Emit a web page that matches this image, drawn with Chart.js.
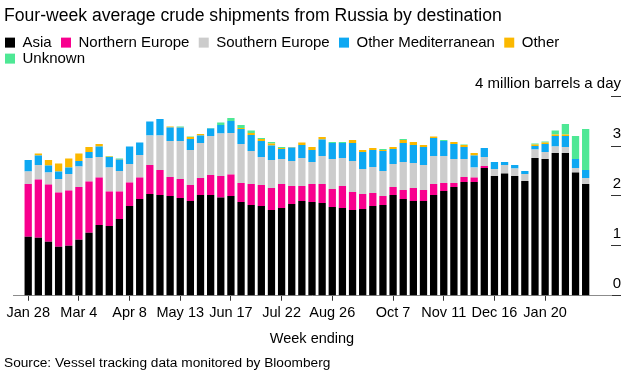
<!DOCTYPE html>
<html>
<head>
<meta charset="utf-8">
<script src="https://cdn.jsdelivr.net/npm/chart.js@4"></script>
<style>
  body { margin: 0; background: #fff; }
</style>
</head>
<body>
<canvas id="shipmentsChart" width="632" height="376"></canvas>
<script>
// week ending dates, one bar per week
const weeks = [
  "Jan 28", "Feb 4", "Feb 11", "Feb 18", "Feb 25", "Mar 4", "Mar 11", "Mar 18", "Mar 25", "Apr 1",
  "Apr 8", "Apr 15", "Apr 22", "Apr 29", "May 6", "May 13", "May 20", "May 27", "Jun 3", "Jun 10",
  "Jun 17", "Jun 24", "Jul 1", "Jul 8", "Jul 15", "Jul 22", "Jul 29", "Aug 5", "Aug 12", "Aug 19",
  "Aug 26", "Sep 2", "Sep 9", "Sep 16", "Sep 23", "Sep 30", "Oct 7", "Oct 14", "Oct 21", "Oct 28",
  "Nov 4", "Nov 11", "Nov 18", "Nov 25", "Dec 2", "Dec 9", "Dec 16", "Dec 23", "Dec 30", "Jan 6",
  "Jan 13", "Jan 20", "Jan 27", "Feb 3", "Feb 10", "Feb 17"
];
const tickWeeks = ["Jan 28", "Mar 4", "Apr 8", "May 13", "Jun 17", "Jul 22", "Aug 26", "Oct 7", "Nov 11", "Dec 16", "Jan 20"];
const yTicks = [0, 1, 2, 3, 4];

// million barrels a day
const asia = [
  1.18, 1.16, 1.08, 0.98, 1.00, 1.12, 1.26, 1.42, 1.40, 1.54,
  1.80, 1.94, 2.04, 2.02, 2.00, 1.96, 1.90, 2.02, 2.02, 1.97,
  2.00, 1.88, 1.82, 1.80, 1.72, 1.76, 1.84, 1.90, 1.88, 1.86,
  1.78, 1.76, 1.72, 1.74, 1.80, 1.82, 2.02, 1.94, 1.90, 1.90,
  2.02, 2.10, 2.18, 2.28, 2.28, 2.56, 2.40, 2.45, 2.40, 2.30,
  2.76, 2.74, 2.86, 2.86, 2.47, 2.24
];
const northernEurope = [
  1.06, 1.17, 1.15, 1.09, 1.11, 1.06, 1.03, 0.95, 0.69, 0.55,
  0.47, 0.43, 0.58, 0.50, 0.38, 0.38, 0.32, 0.34, 0.40, 0.43,
  0.43, 0.38, 0.42, 0.42, 0.44, 0.48, 0.36, 0.30, 0.36, 0.38,
  0.36, 0.44, 0.36, 0.30, 0.26, 0.18, 0.16, 0.18, 0.26, 0.22,
  0.22, 0.16, 0.08, 0.10, 0.09, 0.04, 0, 0, 0, 0,
  0, 0, 0, 0, 0, 0
];
const southernEurope = [
  0.25, 0.29, 0.24, 0.27, 0.33, 0.41, 0.47, 0.41, 0.48, 0.41,
  0.37, 0.45, 0.59, 0.69, 0.72, 0.76, 0.70, 0.70, 0.78, 0.85,
  0.83, 0.78, 0.66, 0.56, 0.56, 0.50, 0.50, 0.56, 0.44, 0.56,
  0.60, 0.56, 0.62, 0.50, 0.52, 0.50, 0.46, 0.56, 0.50, 0.50,
  0.56, 0.54, 0.48, 0.36, 0.20, 0.18, 0.14, 0.17, 0.15, 0.14,
  0.17, 0.14, 0.13, 0.12, 0.09, 0.12
];
const otherMediterranean = [
  0.23, 0.19, 0.14, 0.15, 0.13, 0.11, 0.12, 0.21, 0.21, 0.23,
  0.35, 0.25, 0.28, 0.33, 0.27, 0.27, 0.22, 0.15, 0.15, 0.17,
  0.24, 0.30, 0.32, 0.32, 0.29, 0.20, 0.27, 0.26, 0.24, 0.33,
  0.32, 0.30, 0.36, 0.34, 0.34, 0.40, 0.30, 0.38, 0.36, 0.36,
  0.36, 0.30, 0.30, 0.24, 0.24, 0.18, 0.14, 0.06, 0.07, 0.06,
  0.07, 0.16, 0.21, 0.22, 0.18, 0.16
];
const other = [
  0, 0.04, 0.11, 0.16, 0.18, 0.15, 0.10, 0.05, 0.01, 0.01,
  0, 0, 0, 0, 0.02, 0.01, 0.04, 0.03, 0, 0,
  0, 0.02, 0.04, 0.04, 0.04, 0.02, 0.01, 0.05, 0.06, 0.05,
  0, 0, 0.06, 0.04, 0.04, 0.02, 0.04, 0.06, 0.06, 0.04,
  0.03, 0, 0.04, 0.04, 0.05, 0, 0, 0, 0, 0,
  0.03, 0.03, 0.03, 0.03, 0, 0
];
const unknown = [
  0, 0, 0, 0, 0, 0, 0, 0, 0.01, 0.01,
  0, 0, 0, 0, 0, 0.01, 0.01, 0, 0.01, 0.05,
  0.06, 0.06, 0.05, 0.02, 0.03, 0.02, 0, 0, 0, 0,
  0.02, 0.02, 0, 0, 0, 0.02, 0, 0.02, 0, 0,
  0, 0.02, 0, 0.01, 0, 0, 0, 0, 0, 0,
  0.02, 0.02, 0.08, 0.21, 0.46, 0.82
];

// one empty slot before and two after, the axis runs past the bars
const labels = ["", ...weeks, "", ""];
const pad = arr => [null, ...arr, null, null];

Chart.defaults.font.family = "'Liberation Sans', Arial, sans-serif";
Chart.defaults.color = "#000";

// push the plot down under the legend
const legendGap = {
  id: "legendGap",
  beforeInit(chart) {
    const fit = chart.legend.fit;
    chart.legend.fit = function () {
      fit.bind(chart.legend)();
      this.height += 20;
    };
  },
};

function series(label, data, color) {
  return {
    label,
    data: pad(data),
    backgroundColor: color,
    borderWidth: 0,
    yAxisID: "y",
    barPercentage: 0.72,
    categoryPercentage: 1,
  };
}

new Chart(document.getElementById("shipmentsChart"), {
  type: "bar",
  data: {
    labels,
    datasets: [
      series("Asia", asia, "#000000"),
      series("Northern Europe", northernEurope, "#f8008e"),
      series("Southern Europe", southernEurope, "#cccccc"),
      series("Other Mediterranean", otherMediterranean, "#0ea8f2"),
      series("Other", other, "#fbb800"),
      series("Unknown", unknown, "#4ee895"),
    ],
  },
  plugins: [legendGap],
  options: {
    responsive: false,
    animation: false,
    layout: { padding: { left: 4, right: 11, top: 4, bottom: 5 } },
    plugins: {
      tooltip: { enabled: false },
      title: {
        display: true,
        text: "Four-week average crude shipments from Russia by destination",
        align: "start",
        color: "#000",
        font: { size: 17.6, weight: "normal" },
        padding: { top: 2, bottom: 7 },
      },
      subtitle: {
        display: true,
        position: "bottom",
        align: "start",
        text: "Source: Vessel tracking data monitored by Bloomberg",
        color: "#000",
        font: { size: 13.7, weight: "normal" },
        padding: { top: 7, bottom: 0 },
      },
      legend: {
        position: "top",
        align: "start",
        labels: {
          boxWidth: 10,
          boxHeight: 10,
          padding: 1,
          color: "#000",
          font: { size: 15 },
          generateLabels: (chart) =>
            Chart.defaults.plugins.legend.labels.generateLabels(chart).map((l) => Object.assign(l, { text: l.text + "  " })),
        },
      },
    },
    scales: {
      x: {
        stacked: true,
        offset: true,
        grid: { offset: false, drawOnChartArea: false, drawTicks: true, tickLength: 5, color: "#333" },
        border: { display: true, color: "#8c8c8c", width: 1 },
        ticks: { autoSkip: false, maxRotation: 0, padding: 4, color: "#000", font: { size: 14.5 } },
        afterBuildTicks: (scale) => {
          scale.ticks = scale.ticks.filter((t) => tickWeeks.includes(labels[t.value]));
        },
        title: { display: true, text: "Week ending", color: "#000", font: { size: 14.5 }, padding: { top: 4, bottom: 0 } },
      },
      y: {
        position: "right",
        stacked: true,
        min: 0,
        max: 4,
        afterBuildTicks: (scale) => {
          scale.ticks = yTicks.map((v) => ({ value: v }));
        },
        afterFit: (scale) => { scale.width = 10; },
        ticks: {
          mirror: true,
          padding: 10,
          labelOffset: -12,
          color: "#000",
          font: { size: 15 },
          callback: (v) => (v === 4 ? "4 million barrels a day" : v),
        },
        grid: { drawOnChartArea: false, drawTicks: true, tickLength: 10, color: "#333" },
        border: { display: false },
      },
      yl: {
        position: "left",
        afterFit: (scale) => { scale.width = 9; },
        ticks: { display: false },
        grid: { display: false },
        border: { display: false },
      },
    },
  },
});
</script>
</body>
</html>
